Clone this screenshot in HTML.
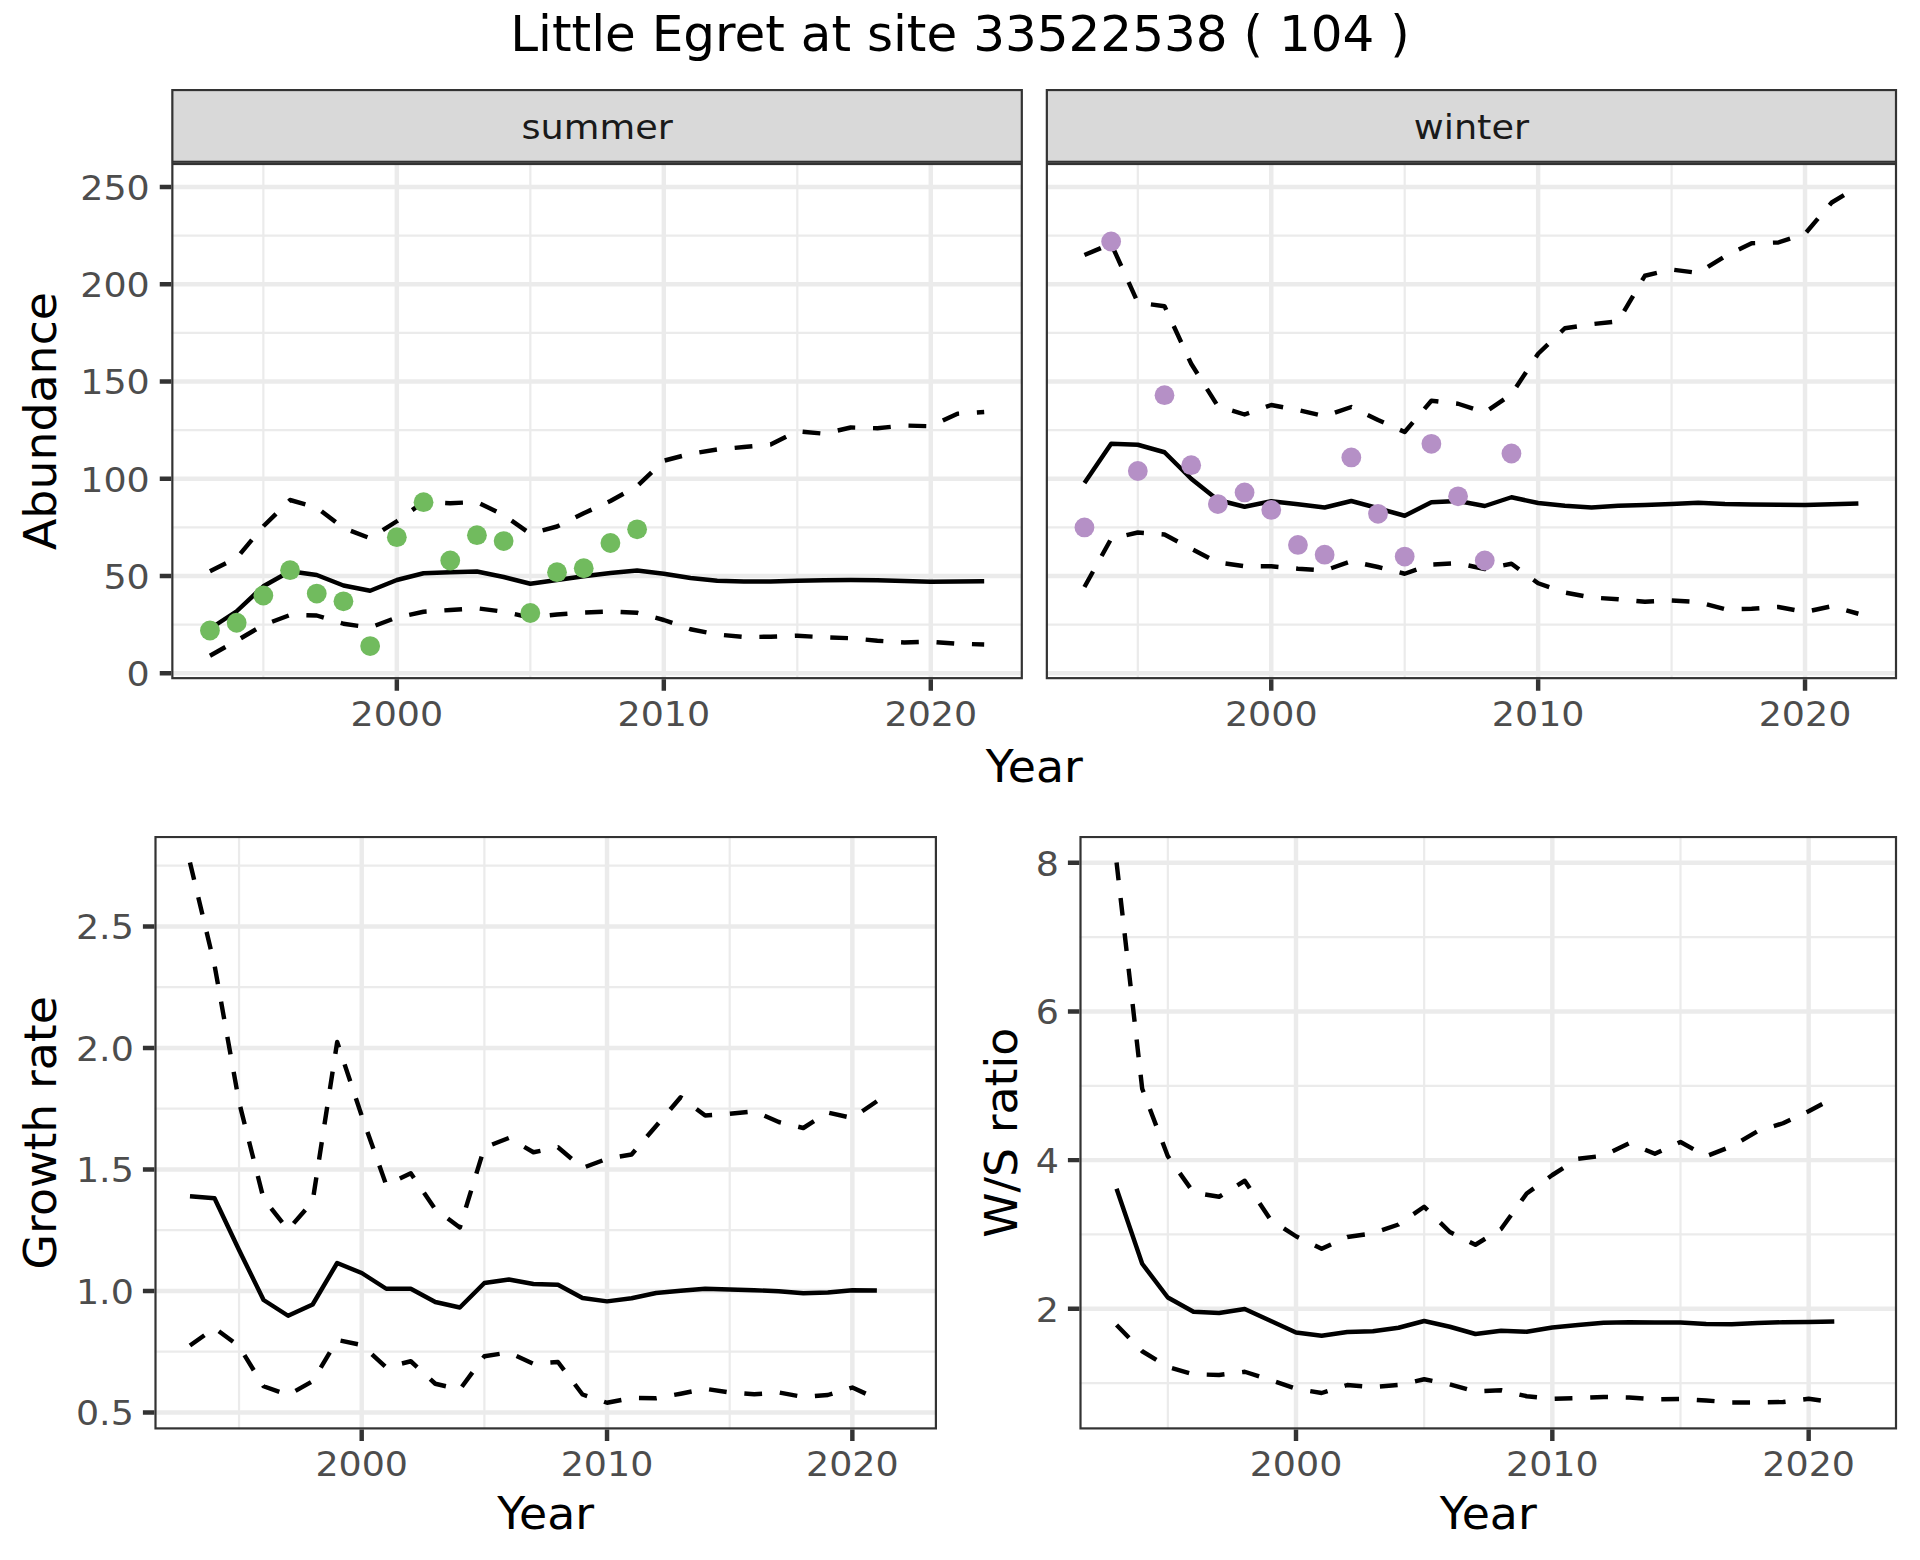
<!DOCTYPE html>
<html lang="en"><head><meta charset="utf-8"><title>Little Egret at site 33522538 ( 104 )</title>
<style>html,body{margin:0;padding:0;background:#fff}body{width:1920px;height:1560px;overflow:hidden}svg{display:block}text{font-family:'DejaVu Sans','Liberation Sans',sans-serif}</style>
</head><body>
<svg width="1920" height="1560" viewBox="0 0 1920 1560" font-family="'DejaVu Sans','Liberation Sans',sans-serif">
<rect width="1920" height="1560" fill="#fff"/>
<text x="960" y="51.3" font-size="50" fill="#000" text-anchor="middle">Little Egret at site 33522538 ( 104 )</text>
<clipPath id="ctl"><rect x="171.25" y="162.9" width="851.65" height="516.35"/></clipPath>
<g clip-path="url(#ctl)">
<rect x="171.25" y="162.9" width="851.65" height="516.35" fill="#fff"/>
<path d="M171.25 624.67H1022.9M171.25 527.42H1022.9M171.25 430.16H1022.9M171.25 332.91H1022.9M171.25 235.65H1022.9M263.36 162.9V679.25M530.33 162.9V679.25M797.31 162.9V679.25" stroke="#EBEBEB" stroke-width="2.22" fill="none"/>
<path d="M171.25 673.3H1022.9M171.25 576.04H1022.9M171.25 478.79H1022.9M171.25 381.53H1022.9M171.25 284.28H1022.9M171.25 187.02H1022.9M396.84 162.9V679.25M663.82 162.9V679.25M930.79 162.9V679.25" stroke="#EBEBEB" stroke-width="4.44" fill="none"/>
<g fill="none" stroke="#000" stroke-width="4.44" stroke-linejoin="round">
<polyline points="209.96,628.75 236.66,611.25 263.36,586.25 290.05,571.25 316.75,575 343.45,585.5 370.15,590.75 396.84,580 423.54,573.25 450.24,572.25 476.94,571.5 503.63,577 530.33,583.75 557.03,580 583.73,576.25 610.42,573 637.12,570.5 663.82,573.75 690.52,578 717.21,580.75 743.91,581.5 770.61,581.5 797.31,580.75 824,580.25 850.7,580 877.4,580.25 904.1,581 930.79,581.75 957.49,581.5 984.19,581.25"/>
<polyline stroke-dasharray="17.743 17.743" points="209.96,655.75 236.66,640.75 263.36,625 290.05,615 316.75,615.5 343.45,623.75 370.15,627.5 396.84,617.5 423.54,611.75 450.24,610 476.94,608.25 503.63,611.75 530.33,617.5 557.03,614.5 583.73,612.5 610.42,611.5 637.12,612.75 663.82,620 690.52,629.25 717.21,634.5 743.91,637 770.61,636.75 797.31,635.75 824,637.25 850.7,638.25 877.4,640.75 904.1,642.5 930.79,641.75 957.49,643.75 984.19,644.5"/>
<polyline stroke-dasharray="17.808 17.808" points="209.96,571.25 236.66,558 263.36,526.25 290.05,500 316.75,507.5 343.45,528 370.15,538.25 396.84,521.25 423.54,502 450.24,503.25 476.94,502 503.63,515 530.33,533.75 557.03,526.5 583.73,513.25 610.42,501 637.12,486.25 663.82,460.75 690.52,453.75 717.21,449.5 743.91,447 770.61,444.5 797.31,431.25 824,433.75 850.7,427.5 877.4,428.25 904.1,425.5 930.79,426.25 957.49,413.75 984.19,412"/>
</g>
<g fill="#71BB5E">
<circle cx="209.96" cy="630.51" r="9.9"/>
<circle cx="236.66" cy="622.73" r="9.9"/>
<circle cx="263.36" cy="595.5" r="9.9"/>
<circle cx="290.05" cy="570.21" r="9.9"/>
<circle cx="316.75" cy="593.55" r="9.9"/>
<circle cx="343.45" cy="601.33" r="9.9"/>
<circle cx="370.15" cy="646.07" r="9.9"/>
<circle cx="396.84" cy="537.14" r="9.9"/>
<circle cx="423.54" cy="502.13" r="9.9"/>
<circle cx="450.24" cy="560.48" r="9.9"/>
<circle cx="476.94" cy="535.2" r="9.9"/>
<circle cx="503.63" cy="541.03" r="9.9"/>
<circle cx="530.33" cy="613" r="9.9"/>
<circle cx="557.03" cy="572.15" r="9.9"/>
<circle cx="583.73" cy="568.26" r="9.9"/>
<circle cx="610.42" cy="542.98" r="9.9"/>
<circle cx="637.12" cy="529.36" r="9.9"/>
</g>
<rect x="171.25" y="162.9" width="851.65" height="516.35" fill="none" stroke="#333333" stroke-width="4.4"/>
</g>
<clipPath id="ssummer"><rect x="171.25" y="88.94" width="851.65" height="73.96"/></clipPath>
<rect clip-path="url(#ssummer)" x="171.25" y="88.94" width="851.65" height="73.96" fill="#D9D9D9" stroke="#333333" stroke-width="4.4"/>
<path d="M173.45 162.5H1020.7" stroke="#484848" stroke-width="1" fill="none"/>
<text transform="translate(597.08 138.7) scale(1.0 0.93)" font-size="36.67" fill="#1A1A1A" text-anchor="middle">summer</text>
<path d="M396.84 679.25v11.5M663.82 679.25v11.5M930.79 679.25v11.5" stroke="#333333" stroke-width="4.44" fill="none"/>
<text transform="translate(396.84 725.5) scale(0.993 0.93)" font-size="36.67" fill="#4D4D4D" text-anchor="middle">2000</text>
<text transform="translate(663.82 725.5) scale(0.993 0.93)" font-size="36.67" fill="#4D4D4D" text-anchor="middle">2010</text>
<text transform="translate(930.79 725.5) scale(0.993 0.93)" font-size="36.67" fill="#4D4D4D" text-anchor="middle">2020</text>
<path d="M171.25 673.3h-11.5M171.25 576.04h-11.5M171.25 478.79h-11.5M171.25 381.53h-11.5M171.25 284.28h-11.5M171.25 187.02h-11.5" stroke="#333333" stroke-width="4.44" fill="none"/>
<text transform="translate(149.75 686.05) scale(0.993 0.93)" font-size="36.67" fill="#4D4D4D" text-anchor="end">0</text>
<text transform="translate(149.75 588.79) scale(0.993 0.93)" font-size="36.67" fill="#4D4D4D" text-anchor="end">50</text>
<text transform="translate(149.75 491.54) scale(0.993 0.93)" font-size="36.67" fill="#4D4D4D" text-anchor="end">100</text>
<text transform="translate(149.75 394.28) scale(0.993 0.93)" font-size="36.67" fill="#4D4D4D" text-anchor="end">150</text>
<text transform="translate(149.75 297.03) scale(0.993 0.93)" font-size="36.67" fill="#4D4D4D" text-anchor="end">200</text>
<text transform="translate(149.75 199.77) scale(0.993 0.93)" font-size="36.67" fill="#4D4D4D" text-anchor="end">250</text>
<clipPath id="ctr"><rect x="1045.75" y="162.9" width="851.35" height="516.35"/></clipPath>
<g clip-path="url(#ctr)">
<rect x="1045.75" y="162.9" width="851.35" height="516.35" fill="#fff"/>
<path d="M1045.75 624.67H1897.1M1045.75 527.42H1897.1M1045.75 430.16H1897.1M1045.75 332.91H1897.1M1045.75 235.65H1897.1M1137.82 162.9V679.25M1404.7 162.9V679.25M1671.59 162.9V679.25" stroke="#EBEBEB" stroke-width="2.22" fill="none"/>
<path d="M1045.75 673.3H1897.1M1045.75 576.04H1897.1M1045.75 478.79H1897.1M1045.75 381.53H1897.1M1045.75 284.28H1897.1M1045.75 187.02H1897.1M1271.26 162.9V679.25M1538.15 162.9V679.25M1805.03 162.9V679.25" stroke="#EBEBEB" stroke-width="4.44" fill="none"/>
<g fill="none" stroke="#000" stroke-width="4.44" stroke-linejoin="round">
<polyline points="1084.45,483 1111.14,443.75 1137.82,444.75 1164.51,452.25 1191.2,478.75 1217.89,500 1244.58,506.75 1271.26,501.25 1297.95,504.25 1324.64,507.5 1351.33,501 1378.02,508.25 1404.7,515.75 1431.39,502.25 1458.08,501 1484.77,506 1511.46,497.25 1538.15,503 1564.83,505.75 1591.52,507.5 1618.21,505.75 1644.9,505 1671.59,504 1698.27,502.75 1724.96,504 1751.65,504.5 1778.34,504.75 1805.03,505 1831.71,504.25 1858.4,503.5"/>
<polyline stroke-dasharray="17.728 17.728" points="1084.45,587 1111.14,538.75 1137.82,532.5 1164.51,534.5 1191.2,548.75 1217.89,562.5 1244.58,566.25 1271.26,566.25 1297.95,568.75 1324.64,570.5 1351.33,561.25 1378.02,567 1404.7,573.75 1431.39,564.5 1458.08,563.25 1484.77,569 1511.46,563.75 1538.15,583.25 1564.83,592.5 1591.52,597.5 1618.21,599.25 1644.9,601.75 1671.59,600.5 1698.27,602 1724.96,609.25 1751.65,608.75 1778.34,607 1805.03,612 1831.71,606.25 1858.4,613.75"/>
<polyline stroke-dasharray="17.785 17.785" points="1084.45,255 1111.14,243.75 1137.82,302.5 1164.51,306.25 1191.2,363.75 1217.89,406.25 1244.58,414.5 1271.26,405 1297.95,410 1324.64,416.25 1351.33,407 1378.02,420 1404.7,432 1431.39,400.75 1458.08,403.75 1484.77,412.5 1511.46,394.4 1538.15,353.75 1564.83,328.25 1591.52,324.25 1618.21,321.25 1644.9,275.75 1671.59,269.5 1698.27,273 1724.96,256.25 1751.65,243.25 1778.34,242.5 1805.03,233.75 1831.71,202.5 1858.4,186.25"/>
</g>
<g fill="#B590C6">
<circle cx="1084.45" cy="527.42" r="9.9"/>
<circle cx="1111.14" cy="241.49" r="9.9"/>
<circle cx="1137.82" cy="471.01" r="9.9"/>
<circle cx="1164.51" cy="395.15" r="9.9"/>
<circle cx="1191.2" cy="465.17" r="9.9"/>
<circle cx="1217.89" cy="504.08" r="9.9"/>
<circle cx="1244.58" cy="492.41" r="9.9"/>
<circle cx="1271.26" cy="509.91" r="9.9"/>
<circle cx="1297.95" cy="544.92" r="9.9"/>
<circle cx="1324.64" cy="554.65" r="9.9"/>
<circle cx="1351.33" cy="457.39" r="9.9"/>
<circle cx="1378.02" cy="513.8" r="9.9"/>
<circle cx="1404.7" cy="556.59" r="9.9"/>
<circle cx="1431.39" cy="443.78" r="9.9"/>
<circle cx="1458.08" cy="496.3" r="9.9"/>
<circle cx="1484.77" cy="560.48" r="9.9"/>
<circle cx="1511.46" cy="453.5" r="9.9"/>
</g>
<rect x="1045.75" y="162.9" width="851.35" height="516.35" fill="none" stroke="#333333" stroke-width="4.4"/>
</g>
<clipPath id="swinter"><rect x="1045.75" y="88.94" width="851.35" height="73.96"/></clipPath>
<rect clip-path="url(#swinter)" x="1045.75" y="88.94" width="851.35" height="73.96" fill="#D9D9D9" stroke="#333333" stroke-width="4.4"/>
<path d="M1047.95 162.5H1894.9" stroke="#484848" stroke-width="1" fill="none"/>
<text transform="translate(1471.42 138.7) scale(1.0 0.93)" font-size="36.67" fill="#1A1A1A" text-anchor="middle">winter</text>
<path d="M1271.26 679.25v11.5M1538.15 679.25v11.5M1805.03 679.25v11.5" stroke="#333333" stroke-width="4.44" fill="none"/>
<text transform="translate(1271.26 725.5) scale(0.993 0.93)" font-size="36.67" fill="#4D4D4D" text-anchor="middle">2000</text>
<text transform="translate(1538.15 725.5) scale(0.993 0.93)" font-size="36.67" fill="#4D4D4D" text-anchor="middle">2010</text>
<text transform="translate(1805.03 725.5) scale(0.993 0.93)" font-size="36.67" fill="#4D4D4D" text-anchor="middle">2020</text>
<text transform="translate(1034.3 781.9) scale(1.0 0.97)" font-size="45.83" fill="#000" text-anchor="middle">Year</text>
<text transform="translate(56.3 421) rotate(-90) scale(1.0 0.97)" font-size="45.83" fill="#000" text-anchor="middle">Abundance</text>
<clipPath id="cbl"><rect x="154.4" y="835.9" width="782.6" height="593.6"/></clipPath>
<g clip-path="url(#cbl)">
<rect x="154.4" y="835.9" width="782.6" height="593.6" fill="#fff"/>
<path d="M154.4 1351.69H937M154.4 1230.18H937M154.4 1108.67H937M154.4 987.16H937M154.4 865.65H937M239.04 835.9V1429.5M484.37 835.9V1429.5M729.7 835.9V1429.5" stroke="#EBEBEB" stroke-width="2.22" fill="none"/>
<path d="M154.4 1412.45H937M154.4 1290.94H937M154.4 1169.43H937M154.4 1047.92H937M154.4 926.41H937M361.7 835.9V1429.5M607.03 835.9V1429.5M852.36 835.9V1429.5" stroke="#EBEBEB" stroke-width="4.44" fill="none"/>
<g fill="none" stroke="#000" stroke-width="4.44" stroke-linejoin="round">
<polyline points="189.97,1196.25 214.51,1198.25 239.04,1250 263.57,1300 288.1,1315.75 312.64,1304.5 337.17,1263 361.7,1273 386.24,1288.75 410.77,1288.75 435.3,1302 459.83,1307.5 484.37,1283 508.9,1279.5 533.43,1284 557.97,1284.75 582.5,1298 607.03,1301.4 631.57,1298.25 656.1,1293 680.63,1290.75 705.16,1288.75 729.7,1289.5 754.23,1290.25 778.76,1291.25 803.3,1293.25 827.83,1292.5 852.36,1290.25 876.89,1290.5"/>
<polyline stroke-dasharray="17.77 17.77" points="189.97,1345.5 214.51,1328 239.04,1346.25 263.57,1386.25 288.1,1395 312.64,1381.25 337.17,1340 361.7,1345 386.24,1367.5 410.77,1361.25 435.3,1383.75 459.83,1389.5 484.37,1356.25 508.9,1352.5 533.43,1363.75 557.97,1362 582.5,1394.5 607.03,1402.75 631.57,1398 656.1,1398.25 680.63,1393.75 705.16,1388.75 729.7,1392.5 754.23,1394.25 778.76,1392.5 803.3,1397 827.83,1395 852.36,1387.5 876.89,1398.75"/>
<polyline stroke-dasharray="17.832 17.832" points="189.97,862.5 214.51,965 239.04,1102 263.57,1198.75 288.1,1229.75 312.64,1201.5 337.17,1042 361.7,1115.75 386.24,1185 410.77,1173.25 435.3,1209.25 459.83,1227.5 484.37,1147.5 508.9,1138 533.43,1152.25 557.97,1147.25 582.5,1168 607.03,1158.75 631.57,1154.5 656.1,1126 680.63,1097.3 705.16,1115.5 729.7,1113.75 754.23,1111.25 778.76,1122 803.3,1128 827.83,1112.5 852.36,1118 876.89,1101.25"/>
</g>
<rect x="154.4" y="835.9" width="782.6" height="593.6" fill="none" stroke="#333333" stroke-width="4.4"/>
</g>
<path d="M361.7 1429.5v11.5M607.03 1429.5v11.5M852.36 1429.5v11.5" stroke="#333333" stroke-width="4.44" fill="none"/>
<text transform="translate(361.7 1475.8) scale(0.993 0.93)" font-size="36.67" fill="#4D4D4D" text-anchor="middle">2000</text>
<text transform="translate(607.03 1475.8) scale(0.993 0.93)" font-size="36.67" fill="#4D4D4D" text-anchor="middle">2010</text>
<text transform="translate(852.36 1475.8) scale(0.993 0.93)" font-size="36.67" fill="#4D4D4D" text-anchor="middle">2020</text>
<path d="M154.4 1412.45h-11.5M154.4 1290.94h-11.5M154.4 1169.43h-11.5M154.4 1047.92h-11.5M154.4 926.41h-11.5" stroke="#333333" stroke-width="4.44" fill="none"/>
<text transform="translate(133.8 1425.2) scale(0.993 0.93)" font-size="36.67" fill="#4D4D4D" text-anchor="end">0.5</text>
<text transform="translate(133.8 1303.69) scale(0.993 0.93)" font-size="36.67" fill="#4D4D4D" text-anchor="end">1.0</text>
<text transform="translate(133.8 1182.18) scale(0.993 0.93)" font-size="36.67" fill="#4D4D4D" text-anchor="end">1.5</text>
<text transform="translate(133.8 1060.67) scale(0.993 0.93)" font-size="36.67" fill="#4D4D4D" text-anchor="end">2.0</text>
<text transform="translate(133.8 939.16) scale(0.993 0.93)" font-size="36.67" fill="#4D4D4D" text-anchor="end">2.5</text>
<text transform="translate(545.7 1529) scale(1.0 0.97)" font-size="45.83" fill="#000" text-anchor="middle">Year</text>
<text transform="translate(56.3 1132.7) rotate(-90) scale(1.0 0.97)" font-size="45.83" fill="#000" text-anchor="middle">Growth rate</text>
<clipPath id="cbr"><rect x="1079.4" y="835.9" width="817.7" height="593.6"/></clipPath>
<g clip-path="url(#cbr)">
<rect x="1079.4" y="835.9" width="817.7" height="593.6" fill="#fff"/>
<path d="M1079.4 1383.14H1897.1M1079.4 1234.46H1897.1M1079.4 1085.78H1897.1M1079.4 937.1H1897.1M1167.83 835.9V1429.5M1424.17 835.9V1429.5M1680.5 835.9V1429.5" stroke="#EBEBEB" stroke-width="2.22" fill="none"/>
<path d="M1079.4 1308.8H1897.1M1079.4 1160.12H1897.1M1079.4 1011.44H1897.1M1079.4 862.76H1897.1M1296 835.9V1429.5M1552.33 835.9V1429.5M1808.67 835.9V1429.5" stroke="#EBEBEB" stroke-width="4.44" fill="none"/>
<g fill="none" stroke="#000" stroke-width="4.44" stroke-linejoin="round">
<polyline points="1116.57,1188.75 1142.2,1263.75 1167.83,1297.5 1193.47,1311.75 1219.1,1313 1244.73,1309 1270.37,1320.75 1296,1332.5 1321.63,1335.75 1347.27,1332 1372.9,1331.25 1398.53,1327.75 1424.17,1321 1449.8,1326.75 1475.43,1334 1501.07,1330.75 1526.7,1331.75 1552.33,1327.5 1577.97,1325 1603.6,1322.75 1629.23,1322.25 1654.87,1322.5 1680.5,1322.5 1706.13,1324 1731.77,1324.25 1757.4,1323 1783.03,1322.25 1808.67,1322 1834.3,1321.5"/>
<polyline stroke-dasharray="17.78 17.78" points="1116.57,1325 1142.2,1351.25 1167.83,1367 1193.47,1374.25 1219.1,1375 1244.73,1371.75 1270.37,1380 1296,1388.75 1321.63,1393 1347.27,1385 1372.9,1387 1398.53,1385 1424.17,1379.25 1449.8,1384.25 1475.43,1391.5 1501.07,1390.25 1526.7,1396.25 1552.33,1398.75 1577.97,1398 1603.6,1397 1629.23,1397.5 1654.87,1399.25 1680.5,1399 1706.13,1400.5 1731.77,1402.5 1757.4,1402.5 1783.03,1402 1808.67,1398.75 1834.3,1402.5"/>
<polyline stroke-dasharray="17.808 17.808" points="1116.57,862.5 1142.2,1088.75 1167.83,1156.25 1193.47,1192.5 1219.1,1196.75 1244.73,1180.75 1270.37,1219.5 1296,1236.25 1321.63,1248.75 1347.27,1237 1372.9,1233.25 1398.53,1224.5 1424.17,1206.75 1449.8,1232 1475.43,1244.75 1501.07,1229 1526.7,1193.5 1552.33,1175 1577.97,1158.75 1603.6,1155.75 1629.23,1143.25 1654.87,1153.75 1680.5,1142 1706.13,1156.25 1731.77,1146.25 1757.4,1131.25 1783.03,1123.25 1808.67,1111.25 1834.3,1097.5"/>
</g>
<rect x="1079.4" y="835.9" width="817.7" height="593.6" fill="none" stroke="#333333" stroke-width="4.4"/>
</g>
<path d="M1296 1429.5v11.5M1552.33 1429.5v11.5M1808.67 1429.5v11.5" stroke="#333333" stroke-width="4.44" fill="none"/>
<text transform="translate(1296 1475.8) scale(0.993 0.93)" font-size="36.67" fill="#4D4D4D" text-anchor="middle">2000</text>
<text transform="translate(1552.33 1475.8) scale(0.993 0.93)" font-size="36.67" fill="#4D4D4D" text-anchor="middle">2010</text>
<text transform="translate(1808.67 1475.8) scale(0.993 0.93)" font-size="36.67" fill="#4D4D4D" text-anchor="middle">2020</text>
<path d="M1079.4 1308.8h-11.5M1079.4 1160.12h-11.5M1079.4 1011.44h-11.5M1079.4 862.76h-11.5" stroke="#333333" stroke-width="4.44" fill="none"/>
<text transform="translate(1058.9 1321.55) scale(0.993 0.93)" font-size="36.67" fill="#4D4D4D" text-anchor="end">2</text>
<text transform="translate(1058.9 1172.87) scale(0.993 0.93)" font-size="36.67" fill="#4D4D4D" text-anchor="end">4</text>
<text transform="translate(1058.9 1024.19) scale(0.993 0.93)" font-size="36.67" fill="#4D4D4D" text-anchor="end">6</text>
<text transform="translate(1058.9 875.51) scale(0.993 0.93)" font-size="36.67" fill="#4D4D4D" text-anchor="end">8</text>
<text transform="translate(1488.25 1529) scale(1.0 0.97)" font-size="45.83" fill="#000" text-anchor="middle">Year</text>
<text transform="translate(1016.5 1132.7) rotate(-90) scale(1.0 0.97)" font-size="45.83" fill="#000" text-anchor="middle">W/S ratio</text>
</svg>
</body></html>
